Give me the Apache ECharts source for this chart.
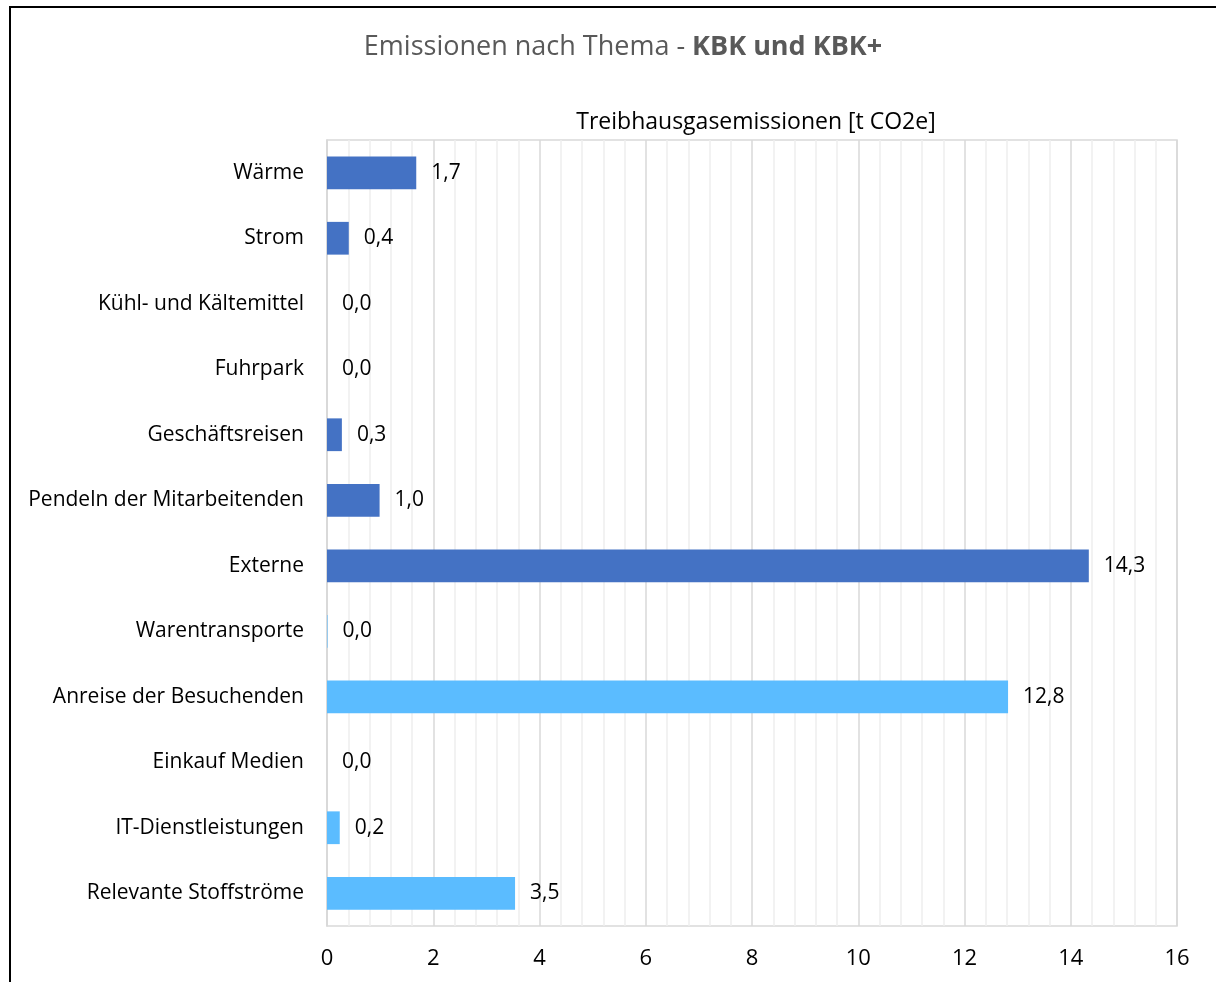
<!DOCTYPE html>
<html>
<head>
<meta charset="utf-8">
<script src="https://cdn.jsdelivr.net/npm/echarts@6/dist/echarts.min.js"></script>
<style>html,body{margin:0;padding:0;background:#fff}#c{width:1216px;height:982px}</style>
</head>
<body>
<div id="c"></div>
<script>
const categories = ["Wärme","Strom","Kühl- und Kältemittel","Fuhrpark","Geschäftsreisen","Pendeln der Mitarbeitenden","Externe","Warentransporte","Anreise der Besuchenden","Einkauf Medien","IT-Dienstleistungen","Relevante Stoffströme"];
const values = [1.68, 0.41, 0, 0, 0.28, 0.99, 14.34, 0.01, 12.82, 0, 0.24, 3.54];
const groups = ["dark","dark","dark","dark","dark","dark","dark","light","light","light","light","light"];
const xTicks = [0, 2, 4, 6, 8, 10, 12, 14, 16];
const colorOf = {dark: "#4472C4", light: "#5BBCFF"};
const FONT = "'Open Sans', 'Noto Sans', sans-serif";

const chart = echarts.init(document.getElementById('c'), null, {renderer: 'canvas'});
chart.setOption({
  animation: false,
  backgroundColor: '#fff',
  title: [
    {
      text: '{n|Emissionen nach Thema - }{b|KBK und KBK+}',
      left: 618, top: 29, textAlign: 'center',
      textStyle: {
        fontWeight: 'normal', fontSize: 27, fontFamily: FONT, color: '#595959',
        rich: {
          n: {fontFamily: FONT, fontSize: 27, color: '#595959', fontWeight: 'normal'},
          b: {fontFamily: FONT, fontSize: 27, color: '#595959', fontWeight: 'bold'}
        }
      }
    },
    {
      text: 'Treibhausgasemissionen [t CO2e]',
      left: 751, top: 106, textAlign: 'center',
      textStyle: {fontFamily: FONT, fontSize: 23, color: '#000', fontWeight: 'normal'}
    }
  ],
  graphic: [{
    type: 'rect', shape: {x: 10, y: 7, width: 1230, height: 1000},
    style: {fill: 'none', stroke: '#000', lineWidth: 2}, silent: true, z: 100
  }],
  grid: {left: 327, right: 39, top: 140, bottom: 56, show: true, borderColor: '#D9D9D9', borderWidth: 1.5},
  xAxis: {
    type: 'value', min: xTicks[0], max: xTicks[xTicks.length - 1], interval: 2,
    axisLine: {show: false}, axisTick: {show: false},
    axisLabel: {fontFamily: FONT, fontSize: 22, color: '#000', margin: 22,
      formatter: v => xTicks.includes(v) ? String(v) : ''},
    splitLine: {show: true, lineStyle: {color: '#D9D9D9', width: 1.5}},
    minorTick: {show: false, splitNumber: 5},
    minorSplitLine: {show: true, lineStyle: {color: '#EEEEEE', width: 1.5}}
  },
  yAxis: {
    type: 'category', data: categories, inverse: true,
    axisLine: {show: true, lineStyle: {color: '#D9D9D9', width: 1.5}},
    axisTick: {show: false},
    axisLabel: {fontFamily: FONT, fontSize: 21, color: '#000', margin: 23}
  },
  series: [{
    type: 'bar',
    barCategoryGap: '50%',
    data: values.map((v, i) => ({value: v, itemStyle: {color: colorOf[groups[i]]}})),
    label: {
      show: true, position: 'right', distance: 15,
      fontFamily: FONT, fontSize: 21, color: '#000',
      formatter: p => p.value.toFixed(1).replace('.', ',')
    }
  }]
});
</script>
</body>
</html>
